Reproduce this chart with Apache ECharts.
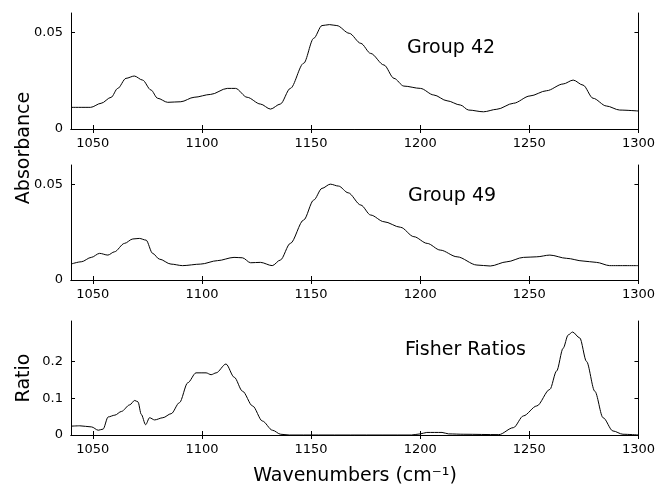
<!DOCTYPE html>
<html>
<head>
<meta charset="utf-8">
<script src="https://cdn.jsdelivr.net/npm/echarts@6/dist/echarts.min.js"></script>
<style>
  html, body { margin: 0; padding: 0; background: #fff; }
  #chart { width: 658px; height: 487px; }
</style>
</head>
<body>
<div id="chart"></div>
<script>
// Group 42 absorbance spectrum
var wn42 = [1040, 1049, 1053.8, 1058.4, 1061.4, 1065.2, 1069, 1072.8, 1076.6, 1079.7, 1084.3, 1090.3, 1096.4, 1104, 1111.6, 1115.4, 1120.7, 1126.8, 1131.4, 1135.9, 1140.5, 1146.6, 1151.2, 1155, 1158.4, 1161.8, 1167.5, 1172.8, 1177.3, 1183.4, 1188, 1192.5, 1200.1, 1206.2, 1212.3, 1218.4, 1222.2, 1229, 1235.1, 1242.7, 1250.3, 1257.9, 1265.5, 1270.1, 1274.6, 1279.2, 1285.3, 1291.4, 1300]
var abs42 = [0.0112, 0.0112, 0.0133, 0.0164, 0.021, 0.0262, 0.0274, 0.0253, 0.0202, 0.0159, 0.0138, 0.0141, 0.0164, 0.0179, 0.021, 0.021, 0.0164, 0.0129, 0.0103, 0.0129, 0.021, 0.034, 0.0469, 0.0535, 0.054, 0.0535, 0.0495, 0.0443, 0.0391, 0.0331, 0.0262, 0.0222, 0.021, 0.0176, 0.0146, 0.0124, 0.0098, 0.0089, 0.0102, 0.0133, 0.0171, 0.0198, 0.0233, 0.0253, 0.0227, 0.0159, 0.0119, 0.0098, 0.0093]

// Group 49 absorbance spectrum
var wn49 = [1040, 1044.7, 1049.3, 1053.1, 1056.9, 1059.9, 1064.5, 1068.3, 1071.3, 1074.4, 1077.4, 1080.5, 1085.8, 1091.1, 1099.4, 1107.1, 1114.7, 1118.5, 1122.3, 1126.8, 1132.2, 1135.9, 1140.5, 1146.6, 1151.2, 1155, 1158.8, 1162.6, 1167, 1172.8, 1177.3, 1183.4, 1191, 1197.1, 1203.2, 1209.2, 1216.9, 1226, 1232.1, 1239.7, 1247.3, 1253.4, 1259.4, 1267.1, 1274.6, 1280.7, 1286.8, 1300]
var abs49 = [0.0083, 0.0095, 0.0118, 0.0139, 0.013, 0.0147, 0.0191, 0.0214, 0.0217, 0.0208, 0.0139, 0.0109, 0.0083, 0.0075, 0.0083, 0.0101, 0.0118, 0.0116, 0.009, 0.0092, 0.0075, 0.0104, 0.0191, 0.0313, 0.0417, 0.0478, 0.05, 0.049, 0.0455, 0.0391, 0.0339, 0.0304, 0.0275, 0.0226, 0.0191, 0.0156, 0.0121, 0.0078, 0.0073, 0.0095, 0.0118, 0.0121, 0.013, 0.0113, 0.0099, 0.0092, 0.0075, 0.0075]

// Fisher ratios
var wnFr = [1040, 1044, 1049.4, 1052.5, 1054.7, 1057, 1060.1, 1063.1, 1066.9, 1069.2, 1070.7, 1072.2, 1074.2, 1076, 1078.3, 1082.1, 1085.9, 1089.7, 1093.5, 1097.3, 1101.9, 1104.2, 1106.5, 1111, 1114.8, 1118.6, 1123.2, 1127.7, 1132.3, 1136.1, 1140, 1196, 1200, 1203, 1210, 1213, 1220, 1236, 1242.7, 1247.3, 1253.4, 1259.4, 1262.5, 1265.5, 1267.8, 1269.8, 1273.1, 1276.2, 1280, 1283.8, 1288.3, 1292.9, 1300]
var fisher = [0.024, 0.025, 0.022, 0.013, 0.016, 0.049, 0.054, 0.064, 0.082, 0.094, 0.09, 0.056, 0.028, 0.047, 0.041, 0.047, 0.058, 0.088, 0.142, 0.169, 0.169, 0.164, 0.169, 0.193, 0.157, 0.119, 0.079, 0.038, 0.013, 0.002, 0, 0, 0.003, 0.007, 0.007, 0.003, 0.002, 0.001, 0.02, 0.052, 0.079, 0.124, 0.174, 0.236, 0.272, 0.28, 0.264, 0.2, 0.119, 0.047, 0.011, 0.002, 0]

var xTicks = [1050, 1100, 1150, 1200, 1250, 1300]
var absTicks = [0, 0.05]
var ratioTicks = [0, 0.1, 0.2]

function pairs (xs, ys) {
  var out = []
  for (let i = 0; i < xs.length; i++) {
    out.push([xs[i], ys[i]])
  }
  return out
}

var tickFont = { fontFamily: 'DejaVu Sans', fontSize: 13, color: '#000' }
var lineStyle = { color: '#000', width: 1 }

function xAxes (idx) {
  return [{
    type: 'value', gridIndex: idx, min: 1040, max: 1300,
    axisLine: { lineStyle: lineStyle },
    axisTick: { inside: true, length: 4, lineStyle: lineStyle, customValues: xTicks },
    axisLabel: Object.assign({ margin: 8, customValues: xTicks, formatter: function (v) { return String(v) } }, tickFont),
    splitLine: { show: false }
  }, {
    type: 'value', gridIndex: idx, position: 'top', min: 1040, max: 1300,
    axisLine: { lineStyle: lineStyle },
    axisTick: { inside: true, length: 4, lineStyle: lineStyle, customValues: xTicks },
    axisLabel: { show: false },
    splitLine: { show: false }
  }]
}

function yAxes (idx, max, ticks, fmt) {
  return [{
    type: 'value', gridIndex: idx, min: 0, max: max,
    axisLine: { show: true, lineStyle: lineStyle },
    axisTick: { show: true, inside: true, length: 4, lineStyle: lineStyle, customValues: ticks },
    axisLabel: Object.assign({ margin: 8, customValues: ticks, formatter: fmt }, tickFont),
    splitLine: { show: false }
  }, {
    type: 'value', gridIndex: idx, position: 'right', min: 0, max: max,
    axisLine: { show: true, lineStyle: lineStyle },
    axisTick: { show: true, inside: true, length: 4, lineStyle: lineStyle, customValues: ticks },
    axisLabel: { show: false },
    splitLine: { show: false }
  }]
}

function fmtAbs (v) { return v === 0 ? '0' : v.toFixed(2) }
function fmtRatio (v) { return v === 0 ? '0' : v.toFixed(1) }

var chart = echarts.init(document.getElementById('chart'))

var option = {
  animation: false,
  backgroundColor: '#fff',
  grid: [
    { left: 71, top: 13, width: 570, height: 116 },
    { left: 71, top: 165, width: 570, height: 115 },
    { left: 71, top: 321, width: 570, height: 114 }
  ],
  xAxis: [].concat(xAxes(0), xAxes(1), xAxes(2)),
  yAxis: [].concat(
    yAxes(0, 0.06, absTicks, fmtAbs),
    yAxes(1, 0.06, absTicks, fmtAbs),
    yAxes(2, 0.31, ratioTicks, fmtRatio)
  ),
  series: [
    { name: 'Group 42', type: 'line', xAxisIndex: 0, yAxisIndex: 0, data: pairs(wn42, abs42), showSymbol: false, smooth: 0.3, smoothMonotone: 'x', lineStyle: lineStyle },
    { name: 'Group 49', type: 'line', xAxisIndex: 2, yAxisIndex: 2, data: pairs(wn49, abs49), showSymbol: false, smooth: 0.3, smoothMonotone: 'x', lineStyle: lineStyle },
    { name: 'Fisher Ratios', type: 'line', xAxisIndex: 4, yAxisIndex: 4, data: pairs(wnFr, fisher), showSymbol: false, smooth: 0.3, smoothMonotone: 'x', lineStyle: lineStyle }
  ],
  graphic: [
    { type: 'text', x: 407, y: 48, style: { text: 'Group 42', font: '19px "DejaVu Sans"', fill: '#000', textVerticalAlign: 'middle' } },
    { type: 'text', x: 408, y: 196, style: { text: 'Group 49', font: '19px "DejaVu Sans"', fill: '#000', textVerticalAlign: 'middle' } },
    { type: 'text', x: 405, y: 350, style: { text: 'Fisher Ratios', font: '19px "DejaVu Sans"', fill: '#000', textVerticalAlign: 'middle' } },
    { type: 'text', x: 24, y: 148, rotation: Math.PI / 2, style: { text: 'Absorbance', font: '19px "DejaVu Sans"', fill: '#000', textAlign: 'center', textVerticalAlign: 'middle' } },
    { type: 'text', x: 24, y: 378, rotation: Math.PI / 2, style: { text: 'Ratio', font: '19px "DejaVu Sans"', fill: '#000', textAlign: 'center', textVerticalAlign: 'middle' } },
    { type: 'text', x: 355, y: 476, style: { text: 'Wavenumbers (cm⁻¹)', font: '19px "DejaVu Sans"', fill: '#000', textAlign: 'center', textVerticalAlign: 'middle' } }
  ]
}

chart.setOption(option)
</script>
</body>
</html>
